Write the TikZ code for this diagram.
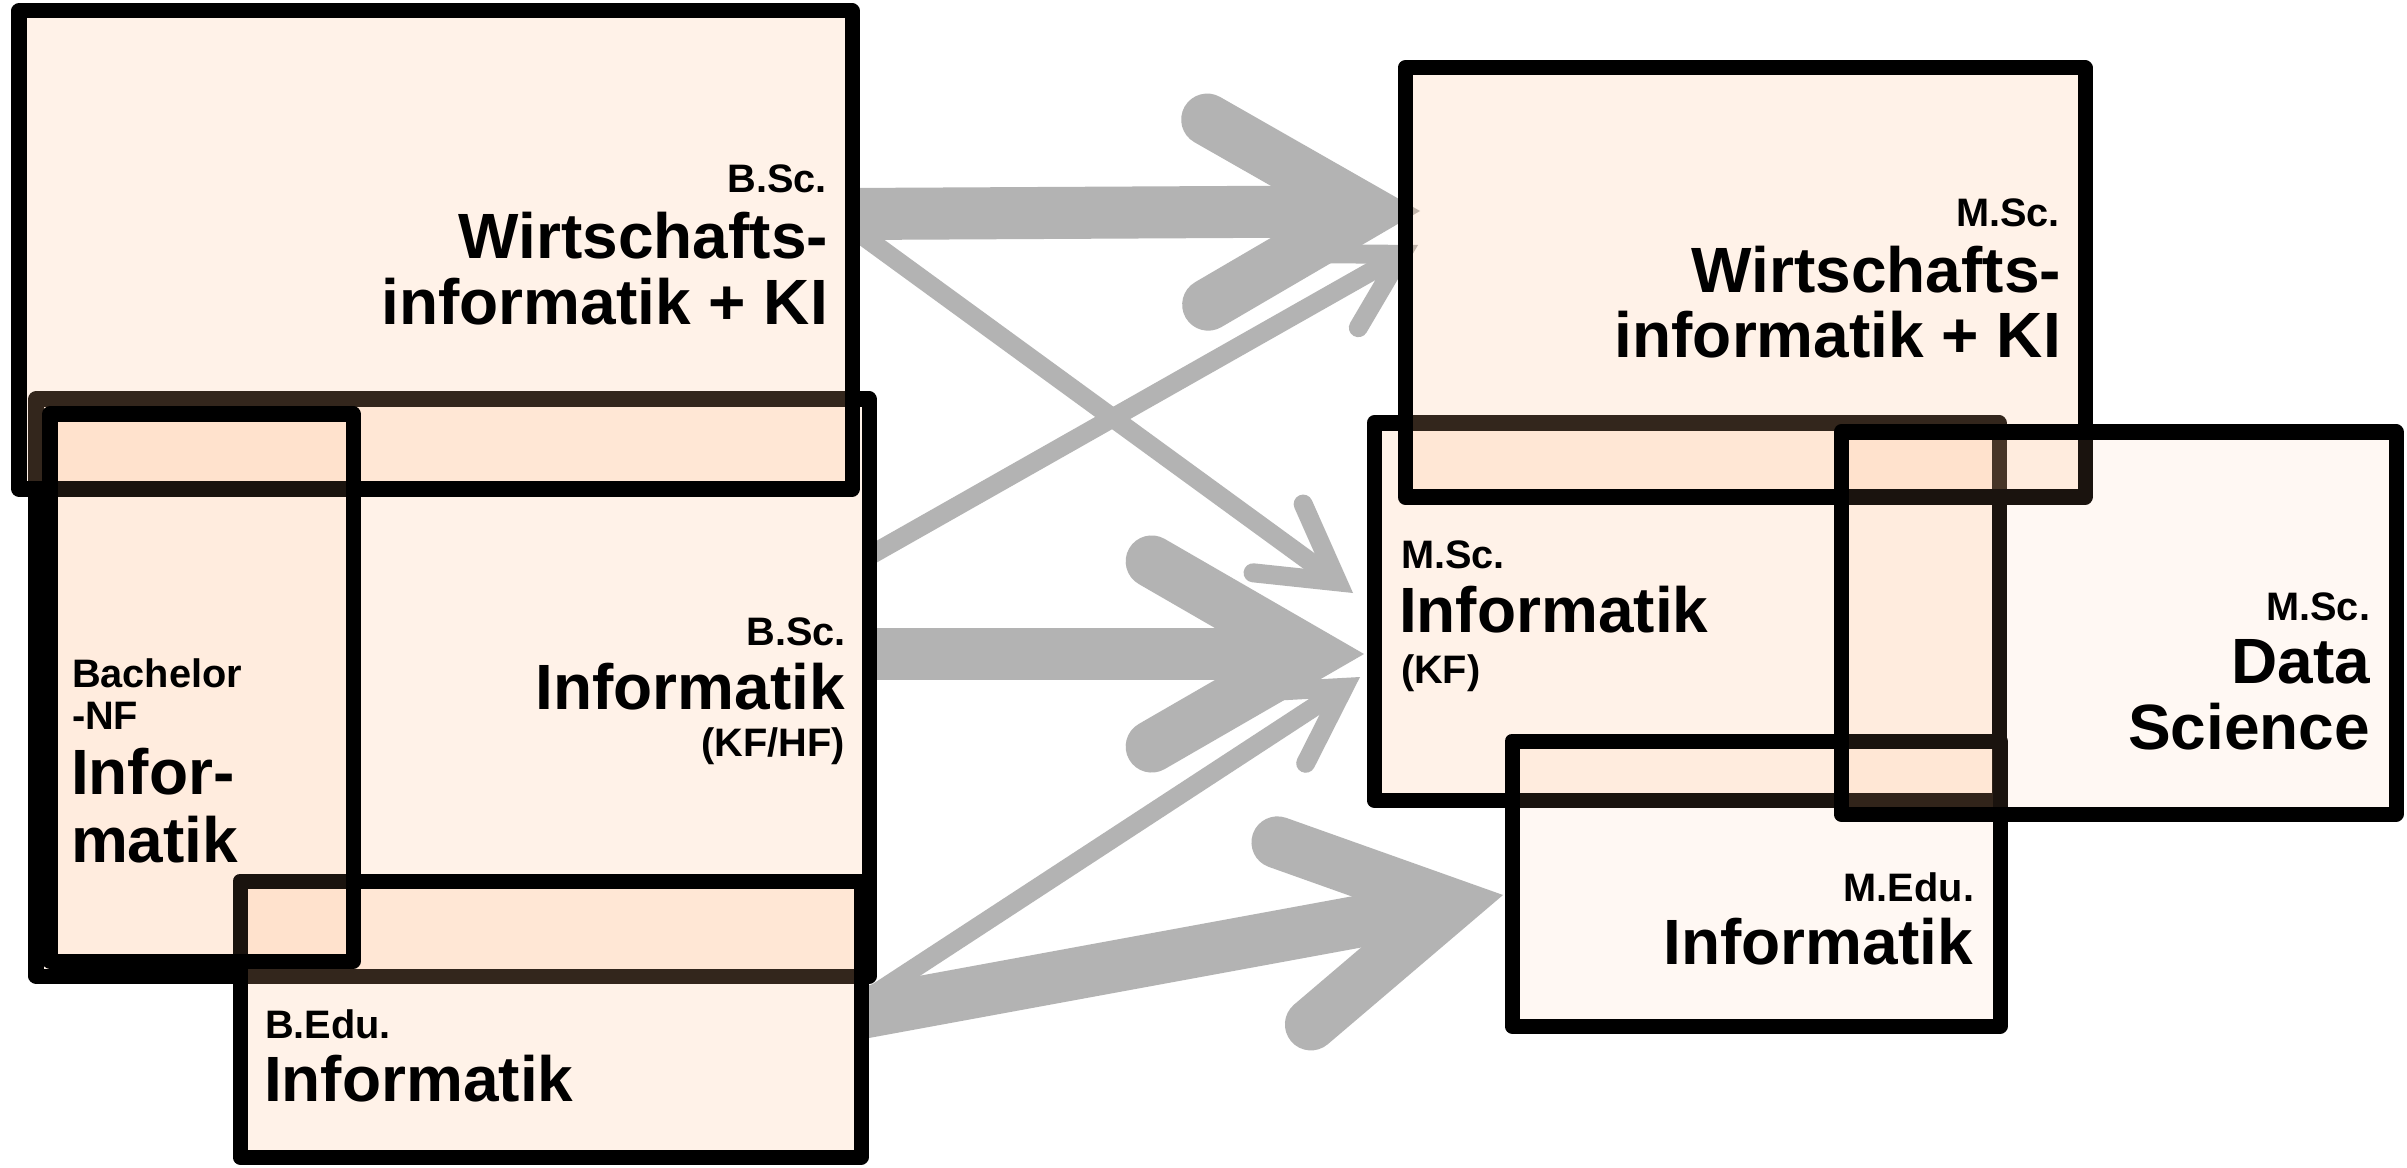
\documentclass[tikz,border=0pt]{standalone}
\usepackage{fontspec}
\setmainfont{Liberation Sans}
\usetikzlibrary{calc,fit}
\pgfdeclarelayer{paper}
\pgfdeclarelayer{flows}
\pgfsetlayers{paper,flows,main}
\definecolor{peach}{RGB}{255,190,140}
\definecolor{flowgray}{RGB}{179,179,179}

% gray transition arrow: #1 line width, #2 barb length, #3 start, #4 tip
\newcommand{\flowarrow}[4]{%
  \coordinate (fv) at ($(#4)!#1!(#3)$);
  \draw[flowline, line width=#1] (#3) -- (fv);
  \draw[flowline, line width=#1, line cap=round, line join=miter]
    ($(fv)!#2!30:(#3)$) -- (fv) -- ($(fv)!#2!-30:(#3)$);
}

\begin{document}
\begin{tikzpicture}[x=0.01cm, y=-0.01cm,
  prog/.style={draw=black, line width=0.15cm, line join=round, fill=peach,
    fill opacity=#1, draw opacity=1, inner sep=0pt, outer sep=0pt},
  prog/.default=0.2,
  flowline/.style={draw=flowgray},
  bigtxt/.style={font=\bfseries\fontsize{18.2pt}{21pt}\selectfont, inner sep=0pt, outer sep=0pt},
  smalltxt/.style={font=\bfseries\fontsize{11.3pt}{13pt}\selectfont, inner sep=0pt, outer sep=0pt},
  rlab/.style={anchor=base east},
  llab/.style={anchor=base west}]

\begin{pgfonlayer}{paper}
  \fill[white] (0,0) rectangle (2407,1167);
\end{pgfonlayer}
\useasboundingbox (0,0) rectangle (2407,1167);

% Bachelor programmes
\node[prog, fit={(36,399) (869,976)}] (cs) {};
\node[prog, fit={(19,11) (852,489)}] (wi) {};
\node[prog, fit={(240,881) (861,1157)}] (edu) {};
\node[prog=0.1, fit={(50,414) (353,961)}] (nf) {};

% Master programmes
\node[prog, fit={(1374,423) (1999,800)}] (minf) {};
\node[prog, fit={(1405,68) (2085,497)}] (mwi) {};
\node[prog=0.1, fit={(1512,741) (2000,1026)}] (medu) {};
\node[prog=0.1, fit={(1841,432) (2396,814)}] (ds) {};

% transitions between programmes
\coordinate (s-wi-a) at (wi.east |- 0,214);
\coordinate (s-wi-b) at (wi.east |- 0,228);
\coordinate (s-cs-a) at (cs.east |- 0,556);
\coordinate (s-cs-b) at (cs.east |- 0,654);
\coordinate (s-edu-a) at (edu.east |- 0,1003);
\coordinate (s-edu-b) at (edu.east |- 0,1013);
\coordinate (t-mwi-a) at (1420,211);
\coordinate (t-mwi-b) at (1418,245);
\coordinate (t-minf-a) at (1353,593);
\coordinate (t-minf-b) at (1364,654);
\coordinate (t-minf-c) at (1360,677);
\coordinate (t-medu) at (1503,895);

\begin{pgfonlayer}{flows}
  \flowarrow{0.52cm}{1.85cm}{s-wi-a}{t-mwi-a}
  \flowarrow{0.19cm}{0.85cm}{s-wi-b}{t-minf-a}
  \flowarrow{0.19cm}{0.85cm}{s-cs-a}{t-mwi-b}
  \flowarrow{0.52cm}{1.85cm}{s-cs-b}{t-minf-b}
  \flowarrow{0.19cm}{0.85cm}{s-edu-a}{t-minf-c}
  \flowarrow{0.52cm}{1.85cm}{s-edu-b}{t-medu}
\end{pgfonlayer}

% labels
\node[smalltxt, rlab] (wi-deg) at (827,193) {B.Sc.};
\node[bigtxt, rlab] (wi-l1) at (828,259) {Wirtschafts-};
\node[bigtxt, rlab] (wi-l2) at (828,325) {informatik + KI};

\node[smalltxt, rlab] (cs-deg) at (846,645) {B.Sc.};
\node[bigtxt, rlab] (cs-l1) at (845,709) {Informatik};
\node[smalltxt, rlab] (cs-l2) at (845,756) {(KF/HF)};

\node[smalltxt, llab] (nf-deg1) at (72,687) {Bachelor};
\node[smalltxt, llab] (nf-deg2) at (72,729) {-NF};
\node[bigtxt, llab] (nf-l1) at (71,794) {Infor-};
\node[bigtxt, llab] (nf-l2) at (71,862) {matik};

\node[smalltxt, llab] (edu-deg) at (265,1038) {B.Edu.};
\node[bigtxt, llab] (edu-l1) at (264,1101) {Informatik};

\node[smalltxt, rlab] (mwi-deg) at (2060,227) {M.Sc.};
\node[bigtxt, rlab] (mwi-l1) at (2061,293) {Wirtschafts-};
\node[bigtxt, rlab] (mwi-l2) at (2061,357) {informatik + KI};

\node[smalltxt, llab] (minf-deg) at (1401,568) {M.Sc.};
\node[bigtxt, llab] (minf-l1) at (1399,632) {Informatik};
\node[smalltxt, llab] (minf-l2) at (1401,683) {(KF)};

\node[smalltxt, rlab] (ds-deg) at (2370,620) {M.Sc.};
\node[bigtxt, rlab] (ds-l1) at (2370,683) {Data};
\node[bigtxt, rlab] (ds-l2) at (2370,749) {Science};

\node[smalltxt, rlab] (medu-deg) at (1974,901) {M.Edu.};
\node[bigtxt, rlab] (medu-l1) at (1973,964) {Informatik};
\end{tikzpicture}
\end{document}
